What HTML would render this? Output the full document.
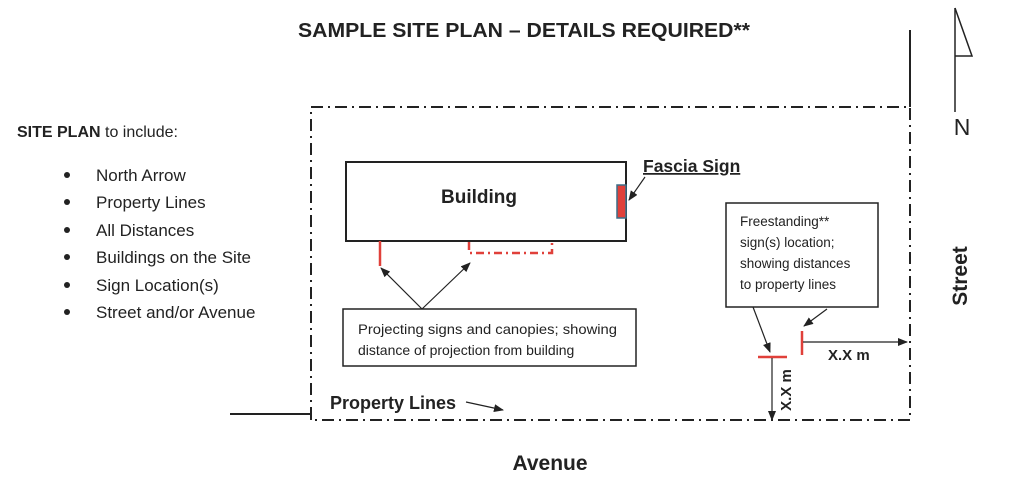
<!DOCTYPE html>
<html><head><style>
body{margin:0;background:#fff;}
svg text{font-family:"Liberation Sans",sans-serif;fill:#222;}
</style></head><body>
<svg width="1012" height="492" viewBox="0 0 1012 492" xmlns="http://www.w3.org/2000/svg">
<defs><marker id="a" markerWidth="10" markerHeight="8" refX="9" refY="4" orient="auto" markerUnits="userSpaceOnUse"><path d="M0,0 L10,4 L0,8 z" fill="#222"/></marker></defs>
<text x="524" y="37" text-anchor="middle" font-size="20" font-weight="bold" textLength="452" lengthAdjust="spacingAndGlyphs">SAMPLE SITE PLAN – DETAILS REQUIRED**</text>
<text x="17" y="137" font-size="16"><tspan font-weight="bold">SITE PLAN</tspan> to include:</text>
<g font-size="17">
<circle cx="67" cy="175" r="3" fill="#222"/><text x="96" y="181">North Arrow</text>
<circle cx="67" cy="202" r="3" fill="#222"/><text x="96" y="208">Property Lines</text>
<circle cx="67" cy="230" r="3" fill="#222"/><text x="96" y="236">All Distances</text>
<circle cx="67" cy="257" r="3" fill="#222"/><text x="96" y="263">Buildings on the Site</text>
<circle cx="67" cy="285" r="3" fill="#222"/><text x="96" y="291">Sign Location(s)</text>
<circle cx="67" cy="312" r="3" fill="#222"/><text x="96" y="318">Street and/or Avenue</text>
</g>
<rect x="311" y="107" width="599" height="313" fill="none" stroke="#222" stroke-width="2" stroke-dasharray="12,5,2,5"/>
<line x1="230" y1="414" x2="311" y2="414" stroke="#222" stroke-width="2"/>
<line x1="311" y1="407" x2="311" y2="420" stroke="#222" stroke-width="2"/>
<line x1="910" y1="30" x2="910" y2="107" stroke="#222" stroke-width="2"/>
<line x1="955" y1="8" x2="955" y2="112" stroke="#222" stroke-width="1.5"/>
<path d="M955,8 L972,56 L955,56" fill="none" stroke="#222" stroke-width="1.5"/>
<text x="962" y="135" font-size="23" text-anchor="middle">N</text>
<rect x="346" y="162" width="280" height="79" fill="#fff" stroke="#222" stroke-width="2"/>
<text x="479" y="203" font-size="19" font-weight="bold" text-anchor="middle">Building</text>
<rect x="617" y="185" width="9" height="33" fill="#e0403a" stroke="#3b6e88" stroke-width="1.5"/>
<text x="643" y="172" font-size="17.5" font-weight="bold" text-decoration="underline">Fascia Sign</text>
<line x1="645" y1="177" x2="629" y2="200" stroke="#222" stroke-width="1.2" marker-end="url(#a)"/>
<line x1="380" y1="241" x2="380" y2="266" stroke="#e0403a" stroke-width="2.5"/>
<path d="M469,242 L469,253 L552,253 L552,242" fill="none" stroke="#e0403a" stroke-width="2.5" stroke-dasharray="8,4,2,4"/>
<line x1="422" y1="309" x2="381" y2="268" stroke="#222" stroke-width="1.2" marker-end="url(#a)"/>
<line x1="422" y1="309" x2="470" y2="263" stroke="#222" stroke-width="1.2" marker-end="url(#a)"/>
<rect x="343" y="309" width="293" height="57" fill="#fff" stroke="#222" stroke-width="1.5"/>
<text x="358" y="334" font-size="14" textLength="259" lengthAdjust="spacingAndGlyphs">Projecting signs and canopies; showing</text>
<text x="358" y="355" font-size="14">distance of projection from building</text>
<text x="330" y="409" font-size="18" font-weight="bold">Property Lines</text>
<line x1="466" y1="402" x2="503" y2="410" stroke="#222" stroke-width="1.2" marker-end="url(#a)"/>
<rect x="726" y="203" width="152" height="104" fill="#fff" stroke="#222" stroke-width="1.5"/>
<g font-size="13.5"><text x="740" y="226">Freestanding**</text><text x="740" y="247">sign(s) location;</text><text x="740" y="268">showing distances</text><text x="740" y="289">to property lines</text></g>
<line x1="753" y1="307" x2="770" y2="352" stroke="#222" stroke-width="1.2" marker-end="url(#a)"/>
<line x1="827" y1="309" x2="804" y2="326" stroke="#222" stroke-width="1.2" marker-end="url(#a)"/>
<line x1="758" y1="357" x2="787" y2="357" stroke="#e0403a" stroke-width="2.5"/>
<line x1="802" y1="331" x2="802" y2="355" stroke="#e0403a" stroke-width="2.5"/>
<line x1="803" y1="342" x2="907" y2="342" stroke="#222" stroke-width="1.2" marker-end="url(#a)"/>
<line x1="772" y1="358" x2="772" y2="420" stroke="#222" stroke-width="1.2" marker-end="url(#a)"/>
<text x="828" y="360" font-size="15" font-weight="bold">X.X m</text>
<text transform="translate(791,390) rotate(-90)" font-size="15" font-weight="bold" text-anchor="middle">X.X m</text>
<text transform="translate(967,276) rotate(-90)" font-size="21" font-weight="bold" text-anchor="middle">Street</text>
<text x="550" y="470" font-size="21" font-weight="bold" text-anchor="middle">Avenue</text>
</svg>
</body></html>
